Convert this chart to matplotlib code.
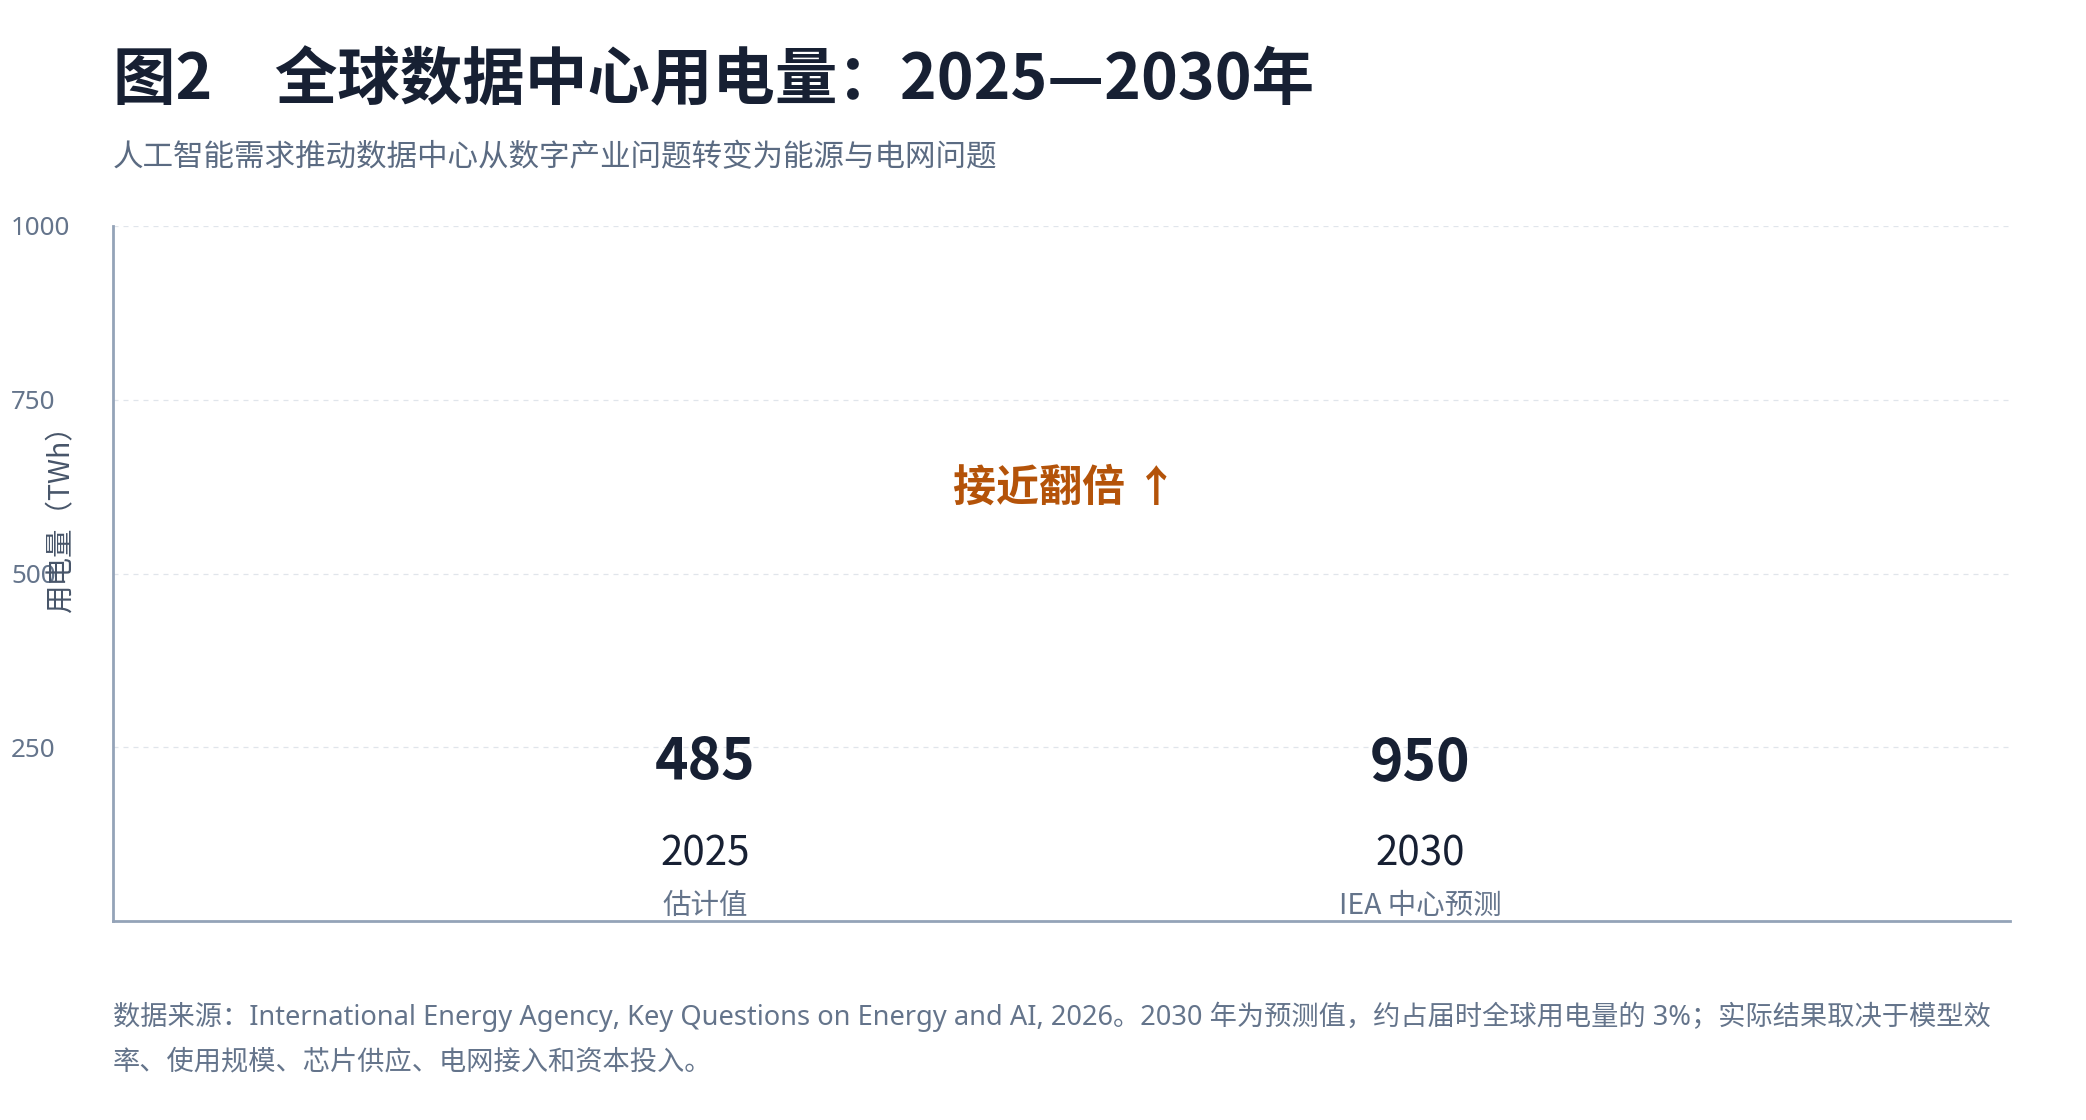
import numpy as np
import matplotlib
matplotlib.use("Agg")
import matplotlib.pyplot as plt
import matplotlib.transforms as mtransforms

plt.rcParams['font.family'] = ['Noto Sans CJK SC', 'DejaVu Sans']

# data
years = ["2025", "2030"]
values = [485, 950]
notes = ["估计值", "IEA 中心预测"]
yticks = [250, 500, 750, 1000]

title = "图2　全球数据中心用电量：2025—2030年"
subtitle = "人工智能需求推动数据中心从数字产业问题转变为能源与电网问题"
callout = "接近翻倍 ↑"
source = ["数据来源：International Energy Agency, Key Questions on Energy and AI, 2026。2030 年为预测值，约占届时全球用电量的 3%；实际结果取决于模型效",
          "率、使用规模、芯片供应、电网接入和资本投入。"]

W, H = 2086, 1120
fig = plt.figure(figsize=(W / 100, H / 100), dpi=100)
fig.patch.set_facecolor("white")

left, right, top, bottom = 113, 2010, 226, 921
ax = fig.add_axes([left / W, 1 - bottom / H, (right - left) / W, (bottom - top) / H])
x = np.arange(len(years))
ax.set_xlim(-0.828, 1.825)
ax.set_ylim(0, 1000)

for s in ["top", "right"]:
    ax.spines[s].set_visible(False)
for s in ["left", "bottom"]:
    ax.spines[s].set_color("#94a3b8")
    ax.spines[s].set_linewidth(2)

ax.set_xticks([])
ax.set_yticks(yticks)
ax.set_yticklabels([str(t) for t in yticks])
ax.tick_params(axis="y", length=0, pad=73.4, labelsize=18.7, labelcolor="#64748b")
for lab in ax.get_yticklabels():
    lab.set_horizontalalignment("left")
    lab.set_family(["Noto Sans", "DejaVu Sans"])
ax.yaxis.grid(True, color="#e0e5eb", linewidth=0.9, linestyle=(0, (4, 4)))
ax.set_axisbelow(True)

# y label sits over the 500 tick label, as in the original
fig.text(61 / W, 1 - 512 / H, "用电量（TWh）", rotation=90, ha="center", va="center",
         fontsize=20.5, color="#475569")

trans = mtransforms.blended_transform_factory(ax.transData, ax.transAxes)
for xi, yr, v, n in zip(x, years, values, notes):
    ax.text(xi, 0.227, f"{v}", transform=trans, ha="center", va="center",
            fontsize=41, fontweight="bold", color="#172033")
    ax.text(xi, 0.097, yr, transform=trans, ha="center", va="center",
            fontsize=29, color="#172033")
    ax.text(xi, 0.021, n, transform=trans, ha="center", va="center",
            fontsize=20.5, color="#64748b")

ax.text(0.502, 0.623, callout, transform=ax.transAxes, ha="center", va="center",
        fontsize=31, fontweight="bold", color="#b45309")

fig.text(left / W, 1 - 81 / H, title, ha="left", va="center", fontsize=45,
         fontweight="bold", color="#172033")
fig.text(left / W, 1 - 158 / H, subtitle, ha="left", va="center", fontsize=22,
         color="#5b6b82")
foot_font = ["Noto Sans", "Noto Sans CJK SC"]
fig.text(left / W, 1 - 1017 / H, source[0], ha="left", va="center", fontsize=19.6,
         color="#64748b", family=foot_font)
fig.text(left / W, 1 - 1062 / H, source[1], ha="left", va="center", fontsize=19.6,
         color="#64748b", family=foot_font)

fig.savefig("out.png", dpi=100, facecolor="white")
